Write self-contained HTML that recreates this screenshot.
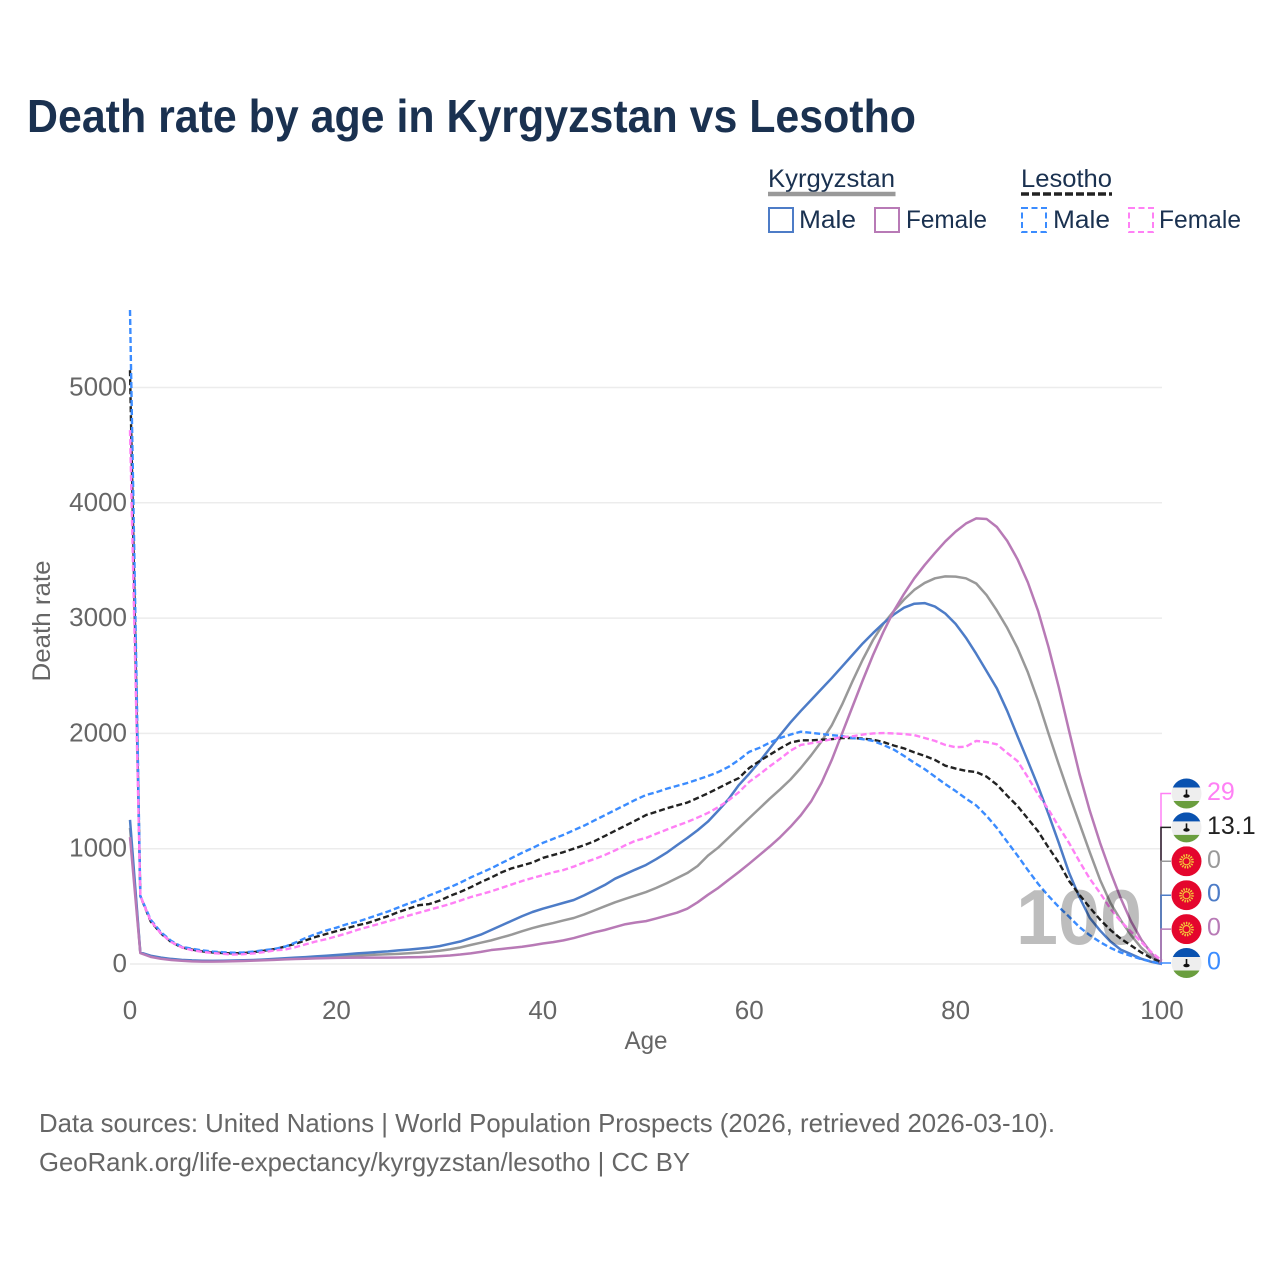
<!DOCTYPE html>
<html lang="en">
<head>
<meta charset="utf-8">
<title>Death rate by age in Kyrgyzstan vs Lesotho</title>
<style>
html,body{margin:0;padding:0;background:#fff;width:1280px;height:1280px;overflow:hidden}
svg{display:block;font-family:"Liberation Sans",sans-serif}
</style>
</head>
<body>
<svg id="chart" xmlns="http://www.w3.org/2000/svg" width="1280" height="1280" viewBox="0 0 1280 1280">
<rect width="1280" height="1280" fill="#fff"/>
<text x="27" y="132" font-size="46" font-weight="700" fill="#1a3150" textLength="889" lengthAdjust="spacingAndGlyphs">Death rate by age in Kyrgyzstan vs Lesotho</text>

<g font-size="25" fill="#1a3150">
<text x="768" y="187" textLength="127" lengthAdjust="spacingAndGlyphs">Kyrgyzstan</text>
<line x1="768" x2="895.5" y1="194" y2="194" stroke="#999" stroke-width="4.5"/>
<text x="1021" y="187" textLength="91" lengthAdjust="spacingAndGlyphs">Lesotho</text>
<line x1="1021" x2="1112" y1="194" y2="194" stroke="#222" stroke-width="3.5" stroke-dasharray="8 3"/>
<rect x="769" y="208" width="24" height="24" fill="none" stroke="#4d7cc7" stroke-width="2"/>
<text x="799" y="228" textLength="57" lengthAdjust="spacingAndGlyphs">Male</text>
<rect x="875" y="208" width="24" height="24" fill="none" stroke="#b87ab6" stroke-width="2"/>
<text x="906" y="228" textLength="81" lengthAdjust="spacingAndGlyphs">Female</text>
<rect x="1022" y="208" width="24" height="24" fill="none" stroke="#3b8cff" stroke-width="2" stroke-dasharray="6 3.5"/>
<text x="1053" y="228" textLength="57" lengthAdjust="spacingAndGlyphs">Male</text>
<rect x="1129" y="208" width="24" height="24" fill="none" stroke="#ff80f5" stroke-width="2" stroke-dasharray="6 3.5"/>
<text x="1159" y="228" textLength="82" lengthAdjust="spacingAndGlyphs">Female</text>
</g>

<g id="grid"></g>
<g id="yticks" font-size="26" fill="#666" text-anchor="end"></g>
<g id="xticks" font-size="26" fill="#666" text-anchor="middle"></g>
<text transform="translate(50,621) rotate(-90)" font-size="25" fill="#666" text-anchor="middle" textLength="121" lengthAdjust="spacingAndGlyphs">Death rate</text>
<text x="646" y="1049" font-size="25" fill="#666" text-anchor="middle" textLength="43" lengthAdjust="spacingAndGlyphs">Age</text>

<g id="lines" fill="none" stroke-linejoin="round"></g>
<g id="connectors" fill="none"></g>
<g id="endlabels" font-size="25"></g>
<text id="age-watermark" x="1016" y="944" font-size="78" font-weight="700" fill="#000" fill-opacity="0.26" textLength="126" lengthAdjust="spacingAndGlyphs"></text>

<g font-size="26" fill="#666">
<text x="39" y="1132" textLength="1016" lengthAdjust="spacingAndGlyphs">Data sources: United Nations | World Population Prospects (2026, retrieved 2026-03-10).</text>
<text x="39" y="1171" textLength="651" lengthAdjust="spacingAndGlyphs">GeoRank.org/life-expectancy/kyrgyzstan/lesotho | CC BY</text>
</g>
</svg>
<script>
const ages = [0,1,2,3,4,5,6,7,8,9,10,11,12,13,14,15,16,17,18,19,20,21,22,23,24,25,26,27,28,29,30,31,32,33,34,35,36,37,38,39,40,41,42,43,44,45,46,47,48,49,50,51,52,53,54,55,56,57,58,59,60,61,62,63,64,65,66,67,68,69,70,71,72,73,74,75,76,77,78,79,80,81,82,83,84,85,86,87,88,89,90,91,92,93,94,95,96,97,98,99,100];
const yTickValues = [0,1000,2000,3000,4000,5000];
const xTickValues = [0,20,40,60,80,100];

const kyrgyzstanBoth = [1180,98,68,52,41,34,29,27,26,27,
28,30,33,36,40,45,49,53,57,61,
66,70,74,78,81,84,88,93,99,106,
115,127,143,165,185,205,230,255,285,312,
335,355,378,399,430,465,500,535,565,595,
624,660,700,745,789,850,940,1010,1095,1180,
1265,1350,1435,1515,1600,1700,1810,1930,2070,2250,
2450,2640,2810,2950,3060,3160,3245,3305,3345,3362,
3360,3345,3300,3200,3065,2915,2740,2530,2280,2000,
1730,1470,1220,970,730,530,380,250,140,60,0];

const kyrgyzstanMale = [1250,100,72,55,44,36,31,28,27,28,
30,32,35,39,44,50,55,60,66,72,
78,85,92,98,104,110,118,125,133,142,
155,175,195,225,255,295,335,375,415,451,
480,505,530,555,595,640,685,740,780,820,
859,910,965,1030,1093,1160,1235,1330,1430,1552,
1650,1755,1870,1985,2095,2195,2290,2385,2480,2580,
2680,2780,2870,2955,3030,3090,3125,3130,3100,3040,
2950,2830,2690,2540,2390,2195,1975,1760,1540,1300,
1050,790,580,400,290,195,125,85,45,18,0];

const kyrgyzstanFemale = [1100,95,62,45,35,28,23,21,21,22,
24,26,29,32,36,40,43,46,49,51,
53,54,55,55,55,55,56,58,60,63,
68,74,82,92,105,121,130,140,150,163,
178,190,205,225,250,275,295,320,345,360,
372,395,420,445,480,535,600,660,730,798,
870,945,1020,1100,1190,1290,1410,1570,1770,2000,
2230,2460,2680,2880,3060,3210,3345,3460,3565,3665,
3750,3820,3865,3860,3790,3670,3510,3310,3060,2750,
2400,2020,1650,1330,1050,800,570,370,210,90,0];

const lesothoBoth = [5150,590,370,265,190,145,125,110,100,95,
92,95,103,115,130,150,175,205,235,260,
285,310,335,355,385,415,450,480,510,520,
550,590,625,665,710,750,795,830,855,880,
920,945,970,1000,1030,1065,1110,1155,1200,1245,
1292,1320,1350,1375,1400,1440,1480,1525,1570,1613,
1700,1760,1815,1870,1920,1940,1940,1945,1950,1960,
1960,1955,1945,1925,1895,1870,1835,1805,1770,1720,
1695,1675,1665,1625,1555,1460,1370,1260,1150,1010,
880,720,600,490,385,295,220,160,100,50,13.1];

const lesothoMale = [5672,590,385,275,200,150,132,118,108,102,
98,100,108,120,130,150,185,225,260,290,
315,345,365,395,425,455,490,525,555,595,
630,665,705,750,790,830,875,920,965,1006,
1050,1085,1120,1160,1200,1245,1290,1335,1380,1425,
1466,1490,1520,1545,1570,1600,1630,1665,1710,1770,
1840,1875,1920,1960,1990,2015,2005,1995,1985,1977,
1960,1950,1935,1900,1860,1805,1745,1690,1625,1560,
1500,1435,1375,1285,1180,1060,940,815,695,590,
495,410,320,250,190,140,100,70,42,22,0];

const lesothoFemale = [4630,590,375,265,190,145,120,105,95,88,
82,85,92,103,118,125,145,170,195,215,
240,265,295,320,345,370,395,420,445,470,
495,520,550,580,605,630,660,690,720,746,
770,795,815,845,880,910,945,985,1030,1070,
1093,1130,1165,1200,1232,1270,1310,1360,1420,1490,
1580,1645,1715,1780,1850,1900,1915,1930,1950,1969,
1975,1990,2000,2003,2000,1995,1985,1960,1935,1900,
1880,1885,1935,1925,1905,1830,1760,1620,1470,1340,
1190,1049,890,740,616,480,370,280,190,100,29];

const NS = 'http://www.w3.org/2000/svg';
const xOf = a => 130 + a * 10.32;
const yOf = v => 964 - v * 0.1153;

function make(tag, parent, attrs) {
  const n = document.createElementNS(NS, tag);
  for (const k in attrs) n.setAttribute(k, attrs[k]);
  parent.appendChild(n);
  return n;
}

const gridG = document.getElementById('grid');
const yG = document.getElementById('yticks');
yTickValues.forEach(v => {
  const g = make('line', gridG, {x1: 130, x2: 1162, y1: yOf(v), y2: yOf(v), stroke: '#ececec', 'stroke-width': 1.5});
  
  
  const t = make('text', yG, {x: 127, y: yOf(v) + 8});
  
  
  t.textContent = v;
});
const xG = document.getElementById('xticks');
xTickValues.forEach(v => {
  const t = make('text', xG, {x: xOf(v), y: 1019});
  
  
  t.textContent = v;
});

const linesG = document.getElementById('lines');
function drawLine(values, color, dashed, name) {
  const d = values.map((v, i) => (i ? 'L' : 'M') + xOf(ages[i]).toFixed(2) + ' ' + yOf(v).toFixed(2)).join('');
  const p = make('path', linesG, {d: d, stroke: color, 'stroke-width': dashed ? 2.4 : 2.5});
  if (dashed) p.setAttribute('stroke-dasharray', '6 3');
  
  
}
drawLine(kyrgyzstanBoth, '#999999', false, 'line-kyrgyzstan-both');
drawLine(kyrgyzstanMale, '#4d7cc7', false, 'line-kyrgyzstan-male');
drawLine(kyrgyzstanFemale, '#b87ab6', false, 'line-kyrgyzstan-female');
drawLine(lesothoBoth, '#222222', true, 'line-lesotho-both');
drawLine(lesothoMale, '#3b8cff', true, 'line-lesotho-male');
drawLine(lesothoFemale, '#ff80f5', true, 'line-lesotho-female');

const connG = document.getElementById('connectors');
const labG = document.getElementById('endlabels');
function drawEnd(values, color, isLesotho, slot, name) {
  const last = values[values.length - 1];
  const ly = 793.5 + slot * 33.9;
  const c = make('path', connG, {d: 'M1161 ' + yOf(last) + 'L1161 ' + ly + 'L1171 ' + ly, stroke: color, 'stroke-width': 1.5});
  
  

  const cx = 1186.5;
  const clipId = 'clip-' + name;
  const clip = make('clipPath', labG, {id: clipId});
  make('circle', clip, {cx: cx, cy: ly, r: 15});
  const f = make('g', labG, {'clip-path': 'url(#' + clipId + ')'});
  
  
  if (isLesotho) {
    make('rect', f, {x: cx - 15, y: ly - 15, width: 30, height: 30, fill: '#eeeeee'});
    make('rect', f, {x: cx - 15, y: ly - 15, width: 30, height: 9, fill: '#0a52b0'});
    make('rect', f, {x: cx - 15, y: ly + 7.5, width: 30, height: 8, fill: '#6a9e3e'});
    make('rect', f, {x: cx - 0.8, y: ly - 4, width: 1.6, height: 6, fill: '#111'});
    make('ellipse', f, {cx: cx, cy: ly + 2.5, rx: 3.2, ry: 1.8, fill: '#111'});
  } else {
    make('rect', f, {x: cx - 15, y: ly - 15, width: 30, height: 30, fill: '#e4062d'});
    make('circle', f, {cx: cx, cy: ly, r: 6, fill: 'none', stroke: '#f4c63a', 'stroke-width': 2.6, 'stroke-dasharray': '1.4 1.1'});
    make('circle', f, {cx: cx, cy: ly, r: 3.6, fill: 'none', stroke: '#f4c63a', 'stroke-width': 1.2});
    make('circle', f, {cx: cx, cy: ly, r: 1.4, fill: '#e4062d'});
  }
  const t = make('text', labG, {x: 1207, y: ly + 6.5, fill: color});
  
  
  t.textContent = last;
}
drawEnd(lesothoFemale, '#ff80f5', true, 0, 'lesotho-female');
drawEnd(lesothoBoth, '#222222', true, 1, 'lesotho-both');
drawEnd(kyrgyzstanBoth, '#999999', false, 2, 'kyrgyzstan-both');
drawEnd(kyrgyzstanMale, '#4d7cc7', false, 3, 'kyrgyzstan-male');
drawEnd(kyrgyzstanFemale, '#b87ab6', false, 4, 'kyrgyzstan-female');
drawEnd(lesothoMale, '#3b8cff', true, 5, 'lesotho-male');

document.getElementById('age-watermark').textContent = ages[ages.length - 1];
</script>
</body>
</html>
